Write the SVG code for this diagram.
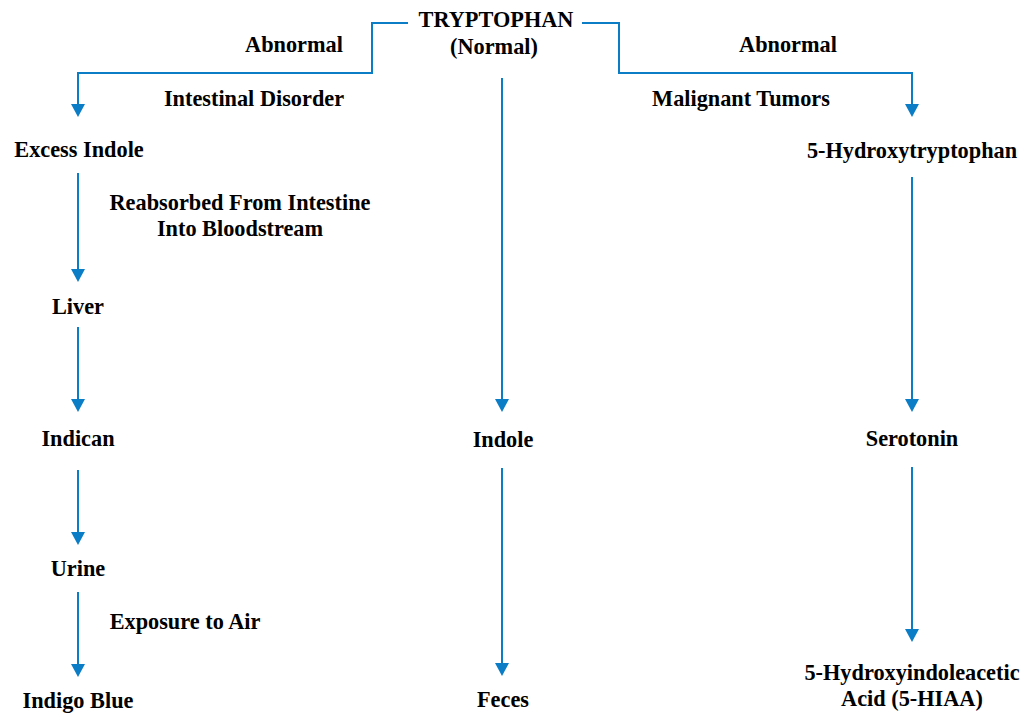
<svg xmlns="http://www.w3.org/2000/svg" width="1023" height="713" viewBox="0 0 1023 713">
<defs>
<style>
text{font-family:"Liberation Serif","Times New Roman",serif;font-weight:bold;font-size:22.3px;fill:#000;text-anchor:middle}
.c{fill:none;stroke:#0b7dc7;stroke-width:2}
.a{fill:#0b7dc7}
</style>
</defs>
<rect width="1023" height="713" fill="#fff"/>
<g id="connectors">
<path class="c" d="M408,23 H372 V73 H78 V104"/>
<path class="c" d="M582,23 H619 V73 H912 V104"/>
<path class="c" d="M502,78 V399"/>
<path class="c" d="M78,173 V269"/>
<path class="c" d="M78,327 V399"/>
<path class="c" d="M78,470 V532"/>
<path class="c" d="M78,592 V664"/>
<path class="c" d="M502,468 V663"/>
<path class="c" d="M912,177 V399"/>
<path class="c" d="M912,467 V629"/>
<path class="a" d="M71,104 H85 L78,117 Z"/>
<path class="a" d="M905,104 H919 L912,117 Z"/>
<path class="a" d="M495,399 H509 L502,412 Z"/>
<path class="a" d="M71,269 H85 L78,282 Z"/>
<path class="a" d="M71,399 H85 L78,412 Z"/>
<path class="a" d="M71,532 H85 L78,545 Z"/>
<path class="a" d="M71,664 H85 L78,677 Z"/>
<path class="a" d="M495,663 H509 L502,676 Z"/>
<path class="a" d="M905,399 H919 L912,412 Z"/>
<path class="a" d="M905,629 H919 L912,642 Z"/>
</g>
<g id="labels">
<text x="294" y="52">Abnormal</text>
<text x="788" y="52">Abnormal</text>
<text x="254" y="106">Intestinal Disorder</text>
<text x="741" y="106">Malignant Tumors</text>
<text x="240" y="210">Reabsorbed From Intestine</text>
<text x="240" y="236">Into Bloodstream</text>
<text x="185" y="629">Exposure to Air</text>
</g>
<g id="tryptophan"><text x="496" y="27">TRYPTOPHAN</text><text x="494" y="54">(Normal)</text></g>
<g id="excess-indole"><text x="79" y="157">Excess Indole</text></g>
<g id="hydroxytryptophan"><text x="912" y="158">5-Hydroxytryptophan</text></g>
<g id="liver"><text x="78" y="314">Liver</text></g>
<g id="indican"><text x="78" y="446">Indican</text></g>
<g id="urine"><text x="78" y="576">Urine</text></g>
<g id="indigo-blue"><text x="78" y="708">Indigo Blue</text></g>
<g id="indole"><text x="503" y="447">Indole</text></g>
<g id="feces"><text x="503" y="707">Feces</text></g>
<g id="serotonin"><text x="912" y="446">Serotonin</text></g>
<g id="hiaa"><text x="912" y="680">5-Hydroxyindoleacetic</text><text x="912" y="706">Acid (5-HIAA)</text></g>
</svg>
